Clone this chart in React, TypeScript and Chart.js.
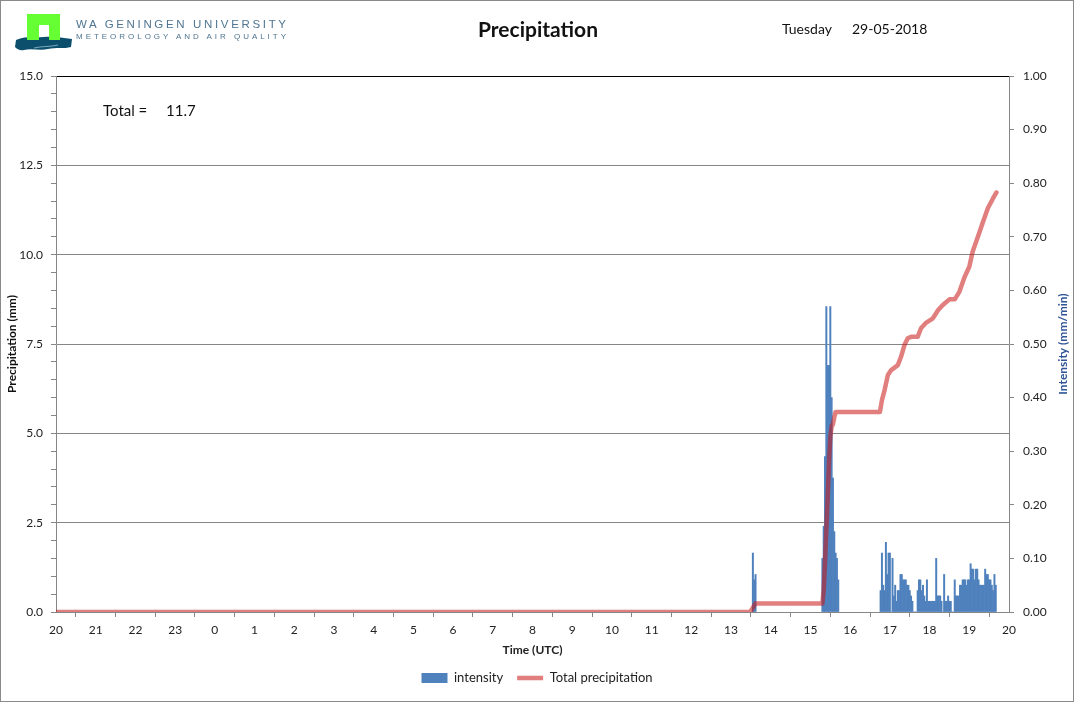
import { useEffect, useRef } from 'react'
import Chart from 'chart.js/auto'

Chart.defaults.font.family = 'Lato'

// day runs from 20:00 UTC (28-05) to 20:00 UTC (29-05)
const hourLabels = ['20', '21', '22', '23', '0', '1', '2', '3', '4', '5', '6', '7', '8', '9', '10', '11', '12', '13', '14', '15', '16', '17', '18', '19', '20']

// intensity (mm/min), 2-minute bins, each shower starts at its time
const showerStarts = ['13:33', '15:18', '16:46']
const shower1 = [0.11, 0.06, 0.07]
const shower2 = [0.10, 0.16, 0.29, 0.57, 0.46, 0.46, 0.57, 0.40, 0.25, 0.15, 0.11, 0.10, 0.06]
const shower3 = [
  0.04, 0.11, 0.05, 0.04, 0.13, 0.07, 0.11, 0.11, 0, 0.10,
  0.03, 0.05, 0.02, 0.04, 0.04, 0.07, 0.07, 0.06, 0.06, 0.06,
  0.05, 0.05, 0.04, 0.03, 0.02, 0, 0, 0, 0.04, 0.06,
  0.06, 0.04, 0.05, 0.03, 0.02, 0.06, 0.02, 0.02, 0.02, 0.02,
  0.02, 0.02, 0.10, 0.03, 0.03, 0.03, 0.02, 0, 0.07, 0.02,
  0.02, 0.03, 0.02, 0.02, 0, 0, 0.06, 0.03, 0.03, 0.03,
  0.05, 0.05, 0.06, 0.06, 0.06, 0.05, 0.06, 0.06, 0.09, 0.08,
  0.08, 0.06, 0.08, 0.08, 0.06, 0.05, 0.05, 0.05, 0.05, 0.08,
  0.07, 0.07, 0.06, 0.06, 0.05, 0.04, 0.07, 0.05,
]
const showers = [shower1, shower2, shower3]

// cumulative precipitation (mm)
const totalTimes = [
  '20:00', '13:29', '13:33', '13:37', '15:18', '15:20', '15:22', '15:24', '15:26', '15:28',
  '15:30', '15:32', '15:34', '15:36', '15:38', '16:45', '16:48', '16:52', '16:57', '17:02',
  '17:12', '17:17', '17:22', '17:27', '17:32', '17:42', '17:47', '17:55', '18:05', '18:13',
  '18:20', '18:30', '18:38', '18:45', '18:53', '19:00', '19:05', '19:13', '19:20', '19:28',
  '19:36', '19:41',
]
const totalValues = [
  0, 0, 0.12, 0.24, 0.24, 0.6, 1.4, 2.3, 3.2, 4.2,
  4.9, 5.2, 5.25, 5.45, 5.6, 5.6, 5.93, 6.21, 6.63, 6.77,
  6.91, 7.15, 7.47, 7.66, 7.7, 7.7, 7.94, 8.1, 8.22, 8.45,
  8.59, 8.75, 8.75, 8.96, 9.38, 9.66, 10.08, 10.5, 10.88, 11.3,
  11.58, 11.74,
]

const intensityTitle = 'Intensity (mm/min)'

// hours since 20:00 UTC
const toHours = (t: string) => {
  const [h, m] = t.split(':').map(Number)
  return ((((h * 60 + m - 1200) % 1440) + 1440) % 1440) / 60
}

const rightTitle = {
  id: 'rightTitle',
  afterDraw(chart: Chart) {
    const { ctx, chartArea } = chart
    ctx.save()
    ctx.translate(chart.width - 11, (chartArea.top + chartArea.bottom) / 2)
    ctx.rotate(-Math.PI / 2)
    ctx.font = 'bold 12px Lato'
    ctx.fillStyle = '#2f5597'
    ctx.textAlign = 'center'
    ctx.textBaseline = 'middle'
    ctx.fillText(intensityTitle, 0, 0)
    ctx.restore()
  },
}

function PrecipChart() {
  const canvasRef = useRef<HTMLCanvasElement>(null)
  const chartRef = useRef<Chart | null>(null)

  useEffect(() => {
    if (!canvasRef.current) return
    if (chartRef.current) chartRef.current.destroy()

    const bars = showers.flatMap((vals, s) =>
      vals.map((y, i) => ({ x: toHours(showerStarts[s]) + (i * 2) / 60, y }))
    )
    const total = totalTimes.map((t, i) => ({ x: toHours(t), y: totalValues[i] }))

    const tickFont = { size: 12, family: 'Lato' }
    const gray = '#868686'

    chartRef.current = new Chart(canvasRef.current, {
      type: 'bar',
      data: {
        datasets: [
          {
            type: 'bar',
            label: 'intensity',
            data: bars,
            yAxisID: 'y1',
            backgroundColor: '#4f81bd',
            borderWidth: 0,
            barPercentage: 1,
            categoryPercentage: 1,
            pointStyle: 'rect',
            order: 1,
          },
          {
            type: 'line',
            label: 'Total precipitation',
            data: total,
            yAxisID: 'y',
            borderColor: 'rgba(200,20,20,0.55)',
            backgroundColor: 'rgba(200,20,20,0.55)',
            borderWidth: 4.5,
            borderJoinStyle: 'round',
            borderCapStyle: 'round',
            pointRadius: 0,
            pointStyle: 'line',
            tension: 0,
            fill: false,
            order: 0,
          },
        ],
      } as any,
      options: {
        animation: false,
        responsive: true,
        maintainAspectRatio: false,
        events: [],
        layout: { padding: { top: 76, bottom: 7.5, left: 0, right: 0 } },
        plugins: {
          tooltip: { enabled: false },
          legend: {
            position: 'bottom',
            labels: {
              usePointStyle: true,
              pointStyleWidth: 26,
              boxHeight: 10,
              padding: 14,
              color: '#222',
              font: { size: 13, family: 'Lato' },
              sort: (a, b) => (a.datasetIndex ?? 0) - (b.datasetIndex ?? 0),
            },
          },
        },
        scales: {
          x: {
            type: 'linear',
            min: 0,
            max: 24,
            offset: false,
            afterFit: (s) => { s.height = 45.5 },
            grid: { drawOnChartArea: false, tickLength: 5, tickColor: gray },
            border: { color: gray },
            ticks: {
              stepSize: 1,
              autoSkip: false,
              maxRotation: 0,
              padding: 6,
              color: '#222',
              font: tickFont,
              callback: (v) => hourLabels[Number(v)] ?? '',
            },
            title: { display: true, text: 'Time (UTC)', color: '#222', font: { size: 12, weight: 'bold', family: 'Lato' }, padding: { top: 0, bottom: 0 } },
          },
          y: {
            position: 'left',
            min: 0,
            max: 15,
            afterFit: (s) => { s.width = 56 },
            grid: {
              color: (c) => (c.tick.value === 15 ? '#000' : c.tick.value % 2.5 === 0 ? gray : 'rgba(0,0,0,0)'),
              tickLength: 5,
              tickColor: gray,
            },
            border: { color: gray },
            ticks: {
              stepSize: 0.5,
              autoSkip: false,
              padding: 8,
              color: '#222',
              font: tickFont,
              callback: (v) => (Number(v) % 2.5 === 0 ? Number(v).toFixed(1) : ''),
            },
            title: { display: true, text: 'Precipitation (mm)', color: '#111', font: { size: 12, weight: 'bold', family: 'Lato' }, padding: { top: 5, bottom: 0 } },
          },
          y1: {
            position: 'right',
            min: 0,
            max: 1,
            afterFit: (s) => { s.width = 65 },
            grid: { drawOnChartArea: false, tickLength: 5, tickColor: gray },
            border: { color: gray },
            ticks: {
              stepSize: 0.1,
              autoSkip: false,
              padding: 9,
              color: '#222',
              font: tickFont,
              callback: (v) => Number(v).toFixed(2),
            },
          },
        },
      },
      plugins: [rightTitle],
    })

    return () => { chartRef.current?.destroy() }
  }, [])

  return (
    <div style={{ position: 'absolute', left: 0, top: 0, width: 1074, height: 702 }}>
      <canvas ref={canvasRef} />
    </div>
  )
}

function Logo() {
  return (
    <svg width={300} height={60} style={{ position: 'absolute', left: 0, top: 0 }}>
      <path d="M16 40 C24 36 34 38 44 37 C54 36 62 38 72 39 L71 47 C64 49 56 47 48 49 C40 51 32 48 24 50 C20 51 17 49 15 47 Z" fill="#0b4f6c" />
      <path d="M27 14 H60 V40 H49 V25 H39 V40 H27 Z" fill="#66ff33" />
      <path d="M34 48 C42 46 50 47 58 45" stroke="#7aa8bd" strokeWidth={1} fill="none" />
      <text x={76} y={28} textLength={210} lengthAdjust="spacing" fill="#4f7591" style={{ font: '11.5px "Liberation Sans"' }}>
        WA GENINGEN UNIVERSITY
      </text>
      <text x={76} y={39} textLength={210} lengthAdjust="spacing" fill="#4f7591" style={{ font: '8px "Liberation Sans"' }}>
        METEOROLOGY AND AIR QUALITY
      </text>
    </svg>
  )
}

export default function App() {
  const dayTotal = totalValues[totalValues.length - 1].toFixed(1)
  return (
    <div style={{ position: 'fixed', left: 0, top: 0, width: 1074, height: 702, background: '#fff', fontFamily: 'Lato', color: '#111', overflow: 'hidden' }}>
      <PrecipChart />
      <Logo />
      <div style={{ position: 'absolute', left: 438, top: 18, width: 200, textAlign: 'center', fontSize: 21, fontWeight: 'bold', lineHeight: 1 }}>
        Precipitation
      </div>
      <div style={{ position: 'absolute', left: 782, top: 22, fontSize: 14, lineHeight: 1 }}>Tuesday</div>
      <div style={{ position: 'absolute', left: 852, top: 22, fontSize: 14, lineHeight: 1 }}>29-05-2018</div>
      <div style={{ position: 'absolute', left: 103, top: 102.5, fontSize: 15, lineHeight: 1 }}>Total =</div>
      <div style={{ position: 'absolute', left: 166, top: 102.5, fontSize: 15, lineHeight: 1 }}>{dayTotal}</div>
      <div style={{ position: 'absolute', left: 0, top: 0, width: 1074, height: 702, boxSizing: 'border-box', border: '1px solid #8a8a8a', pointerEvents: 'none' }} />
    </div>
  )
}
